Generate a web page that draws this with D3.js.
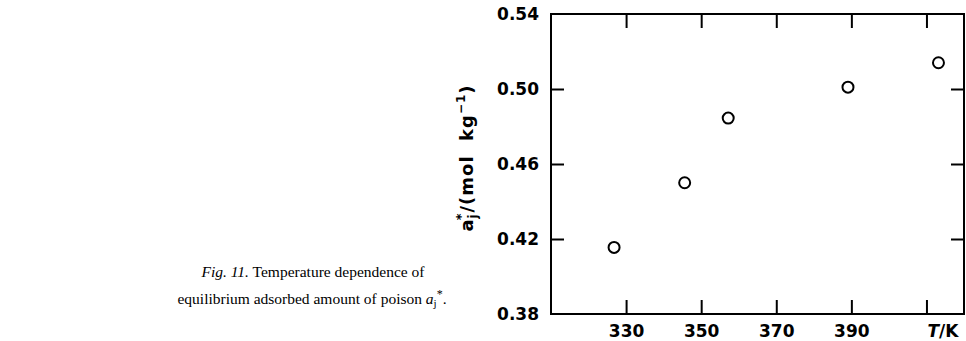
<!DOCTYPE html>
<html>
<head>
<meta charset="utf-8">
<script src="https://cdn.jsdelivr.net/npm/d3@7"></script>
<style>
  html, body { margin: 0; padding: 0; background: #fff; }
  svg { display: block; }
</style>
</head>
<body>
<script>
// ---- data ----
const temperatures = [326.8, 345.6, 357.2, 389.1, 413.2];
const adsorbed = [0.4155, 0.4500, 0.4845, 0.5010, 0.5140];
const xTickValues = [330, 350, 370, 390, 410];
const xTickLabels = ["330", "350", "370", "390", ""];
const yTickValues = [0.38, 0.42, 0.46, 0.50, 0.54];
const yTickLabels = ["0.38", "0.42", "0.46", "0.50", "0.54"];

(function () {
const W = 966, H = 341;
const svg = d3.select("body").append("svg").attr("width", W).attr("height", H);

const pL = 551, pR = 964, pT = 14, pB = 314;
const x = d3.scaleLinear().domain([310, 420]).range([pL, pR]);
const y = d3.scaleLinear().domain([0.38, 0.54]).range([pB, pT]);

const tickFont = "'DejaVu Sans', sans-serif";

// frame
svg.append("rect")
  .attr("x", pL).attr("y", pT)
  .attr("width", pR - pL).attr("height", pB - pT)
  .attr("fill", "none").attr("stroke", "#000").attr("stroke-width", 2);

const xAxisB = d3.axisBottom(x).tickValues(xTickValues)
  .tickSize(-14).tickPadding(11)
  .tickFormat((d, i) => xTickLabels[i]);
const gxb = svg.append("g").attr("transform", `translate(0,${pB})`).call(xAxisB);
const xAxisT = d3.axisTop(x).tickValues(xTickValues).tickSize(-14).tickFormat("");
const gxt = svg.append("g").attr("transform", `translate(0,${pT})`).call(xAxisT);

const yAxisL = d3.axisLeft(y).tickValues(yTickValues)
  .tickSize(-13).tickPadding(12)
  .tickFormat((d, i) => yTickLabels[i]);
const gyl = svg.append("g").attr("transform", `translate(${pL},0)`).call(yAxisL);
const yAxisR = d3.axisRight(y).tickValues(yTickValues).tickSize(-13).tickFormat("");
const gyr = svg.append("g").attr("transform", `translate(${pR},0)`).call(yAxisR);

[gxb, gxt, gyl, gyr].forEach(g => {
  g.select(".domain").remove();
  g.selectAll(".tick line").attr("stroke", "#000").attr("stroke-width", 2);
  g.selectAll("text").attr("fill", "#000")
    .style("font-family", tickFont).style("font-size", "17px").style("font-weight", "bold");
});
gyl.selectAll(".tick").filter(d => d === 0.38 || d === 0.54).select("line").remove();
gyr.selectAll(".tick").filter(d => d === 0.38 || d === 0.54).select("line").remove();

const tk = svg.append("text")
  .attr("x", x(410) + 1).attr("y", pB + 11).attr("dy", "0.71em")
  .style("font-family", tickFont).style("font-size", "17px").style("font-weight", "bold");
tk.append("tspan").style("font-style", "italic").text("T");
tk.append("tspan").text("/K");

const yl = svg.append("text")
  .attr("transform", `translate(473,158) rotate(-90)`)
  .attr("text-anchor", "middle")
  .style("font-family", tickFont).style("font-size", "18px").style("font-weight", "bold")
  .style("letter-spacing", "1px");
yl.append("tspan").text("a");
yl.append("tspan").attr("dy", 4).style("font-size", "12px").text("j");
yl.append("tspan").attr("dx", -7).attr("dy", -12).style("font-size", "13px").text("*");
yl.append("tspan").attr("dy", 8).text("/(mol\u00a0 kg");
yl.append("tspan").attr("dy", -8).style("font-size", "12px").text("−1");
yl.append("tspan").attr("dy", 8).text(")");

svg.append("g").selectAll("circle")
  .data(temperatures.map((t, i) => [t, adsorbed[i]]))
  .join("circle")
  .attr("cx", d => x(d[0])).attr("cy", d => y(d[1]))
  .attr("r", 5.5)
  .attr("fill", "none").attr("stroke", "#000").attr("stroke-width", 2);

const capFont = "'Liberation Serif', 'Times New Roman', serif";
const c1 = svg.append("text").attr("x", 313).attr("y", 277).attr("text-anchor", "middle")
  .style("font-family", capFont).style("font-size", "15.5px");
c1.append("tspan").style("font-style", "italic").text("Fig. 11.");
c1.append("tspan").text(" Temperature dependence of");

const c2 = svg.append("text").attr("x", 312).attr("y", 304).attr("text-anchor", "middle")
  .style("font-family", capFont).style("font-size", "15.5px");
c2.append("tspan").text("equilibrium adsorbed amount of poison ");
c2.append("tspan").style("font-style", "italic").text("a");
c2.append("tspan").attr("dy", 3).style("font-size", "11px").text("j");
c2.append("tspan").attr("dy", -9).style("font-size", "12px").text("*");
c2.append("tspan").attr("dy", 6).text(".");
})();
</script>
</body>
</html>
